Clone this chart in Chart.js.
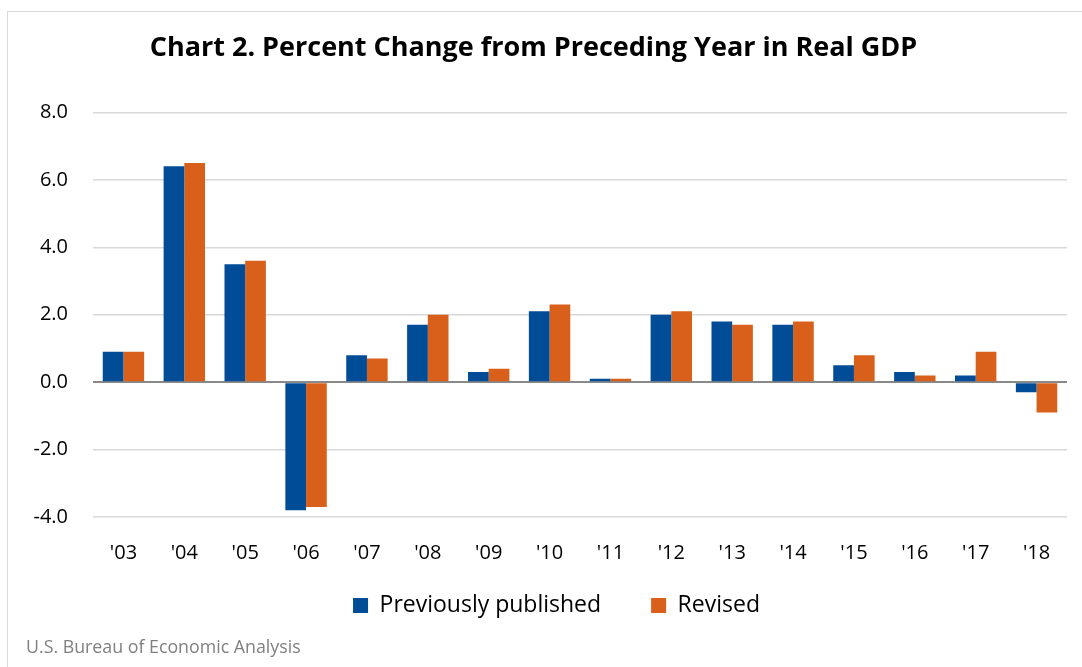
<!DOCTYPE html>
<html>
<head>
<meta charset="utf-8">
<script src="https://cdn.jsdelivr.net/npm/chart.js@4"></script>
<style>
  body { margin: 0; background: #fff; }
  #frame { position: absolute; left: 7px; top: 11px; width: 1090px; height: 670px; border: 1px solid #d9d9d9; box-sizing: border-box; }
  #wrap { position: absolute; left: 0; top: 0; width: 1082px; height: 667px; }
  #source { position: absolute; left: 26px; top: 634px; font-family: "Open Sans", sans-serif; font-size: 17.8px; color: #808080; }
</style>
</head>
<body>
<div id="frame"></div>
<div id="wrap"><canvas id="myChart"></canvas></div>
<div id="source">U.S. Bureau of Economic Analysis</div>
<script>
var years = ["'03", "'04", "'05", "'06", "'07", "'08", "'09", "'10", "'11", "'12", "'13", "'14", "'15", "'16", "'17", "'18"];
var previouslyPublished = [0.9, 6.4, 3.5, -3.8, 0.8, 1.7, 0.3, 2.1, 0.1, 2.0, 1.8, 1.7, 0.5, 0.3, 0.2, -0.3];
var revised = [0.9, 6.5, 3.6, -3.7, 0.7, 2.0, 0.4, 2.3, 0.1, 2.1, 1.7, 1.8, 0.8, 0.2, 0.9, -0.9];

var fontFamily = '"Open Sans", "Noto Sans", sans-serif';

// The legend's padding sets both the gap between items and the space above them,
// so move the finished legend box up a bit (and right, to sit under the bars)
var legendShift = {
    id: 'legendShift',
    afterLayout: function (chart) {
        var legend = chart.legend;
        legend.top -= 45;
        legend.bottom -= 45;
        legend.left += 23;
        legend.right += 23;
    }
};

var ctx = document.getElementById('myChart').getContext('2d');
var config = {
    type: 'bar',
    data: {
        labels: years,
        datasets: [
            {
                label: 'Previously published',
                data: previouslyPublished,
                backgroundColor: '#004c97',
                borderWidth: 0
            },
            {
                label: 'Revised',
                data: revised,
                backgroundColor: '#d9601a',
                borderWidth: 0
            }
        ]
    },
    options: {
        responsive: true,
        maintainAspectRatio: false,
        animation: false,
        datasets: {
            bar: {
                categoryPercentage: 0.68,
                barPercentage: 1.0
            }
        },
        layout: {
            padding: { left: 0, right: 15, top: 0, bottom: -5 }
        },
        plugins: {
            title: {
                display: true,
                text: 'Chart 2. Percent Change from Preceding Year in Real GDP',
                color: '#000',
                font: { family: fontFamily, size: 27, weight: 'bold' },
                padding: { top: 32, bottom: 48 }
            },
            legend: {
                position: 'bottom',
                labels: {
                    color: '#000',
                    font: { family: fontFamily, size: 23 },
                    boxWidth: 15,
                    boxHeight: 15,
                    padding: 50
                }
            },
            tooltip: { enabled: false }
        },
        scales: {
            x: {
                grid: { display: false, drawTicks: false },
                border: { display: false },
                ticks: {
                    color: '#000',
                    font: { family: fontFamily, size: 20 },
                    padding: 24
                }
            },
            y: {
                min: -4,
                max: 8,
                afterFit: function (scale) {
                    scale.width = 93;
                },
                grid: {
                    drawTicks: false,
                    color: function (c) {
                        return c.tick && c.tick.value === 0 ? '#898989' : '#d9d9d9';
                    },
                    lineWidth: function (c) {
                        return c.tick && c.tick.value === 0 ? 2 : 1.5;
                    }
                },
                border: { display: false },
                ticks: {
                    stepSize: 2,
                    color: '#000',
                    font: { family: fontFamily, size: 20 },
                    padding: 25,
                    callback: function (value) {
                        return value.toFixed(1);
                    }
                }
            }
        }
    },
    plugins: [legendShift]
};

var myChart = new Chart(ctx, config);
</script>
</body>
</html>
